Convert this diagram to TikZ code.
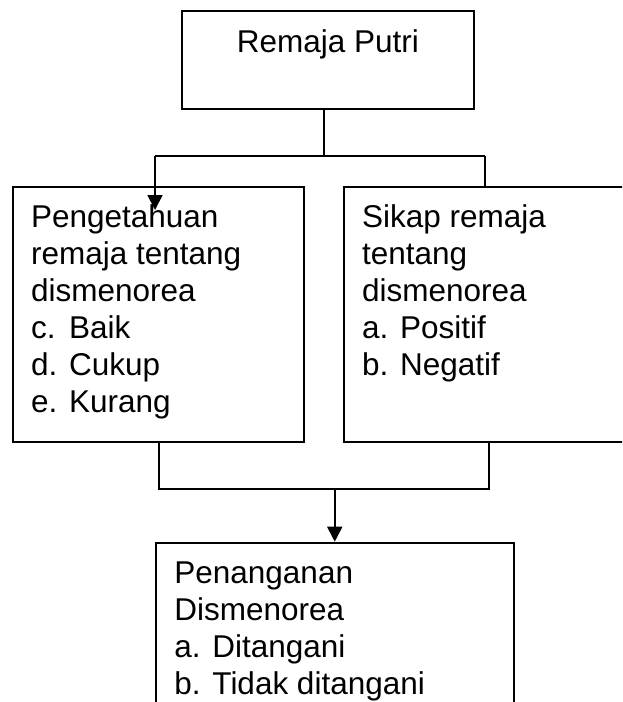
\documentclass[tikz,border=0pt]{standalone}
\usepackage{fontspec}
\setmainfont{Liberation Sans}
\usetikzlibrary{arrows.meta}
\newcommand{\panelbody}[3]{\parbox[t][#2][t]{#1}{\raggedright\rule{0pt}{41pt}#3}}
\newcommand{\listentry}[2]{\makebox[38pt][l]{#1}#2}
\tikzset{
  every picture/.style={font=\fontsize{31.5pt}{37pt}\selectfont},
  panel box/.style={draw, line width=1.8pt, inner xsep=18.5pt,
    inner ysep=0pt, anchor=north west},
  panel link/.style={draw, line width=1.8pt},
  panel arrow/.style={-{Triangle[length=15pt,width=15pt]},
    draw, line width=1.8pt}
}
\begin{document}
\begin{tikzpicture}[x=1pt,y=-1pt]
  \clip (0,0) rectangle (622,702);
  % boxes
  \node[panel box, inner xsep=0pt] (girl) at (181,10)
    {\parbox[t][98pt][t]{292pt}{\centering\rule{0pt}{42pt}Remaja Putri}};
  \node[panel box] (know) at (11.7,186)
    {\panelbody{254pt}{254.7pt}{Pengetahuan\\ remaja tentang\\ dismenorea\\
      \listentry{c.}{Baik}\\ \listentry{d.}{Cukup}\\ \listentry{e.}{Kurang}}};
  \node[panel box] (attitude) at (342.7,186)
    {\panelbody{263pt}{254.7pt}{Sikap remaja\\ tentang\\ dismenorea\\
      \listentry{a.}{Positif}\\ \listentry{b.}{Negatif}}};
  \node[panel box] (handling) at (155,541.7)
    {\panelbody{320.7pt}{200pt}{Penanganan\\ Dismenorea\\
      \listentry{a.}{Ditangani}\\ \listentry{b.}{Tidak ditangani}}};
  % fork below the top box
  \coordinate (forkL) at (155,156);
  \coordinate (forkR) at (485,156);
  \draw[panel link] ([xshift=-4pt]girl.south) -- ([xshift=-4pt]girl.south |- forkL);
  \draw[panel link] (forkL) -- (forkR);
  \draw[panel arrow] (forkL) -- ++(0,54);
  \draw[panel link] (forkR) -- (forkR |- attitude.north);
  % join above the bottom box
  \coordinate (joinL) at (159,489);
  \coordinate (joinR) at (489,489);
  \draw[panel link] (joinL |- know.south) -- (joinL) -- (joinR)
    -- (joinR |- attitude.south);
  \draw[panel arrow] (handling.north |- joinL) -- (handling.north);
\end{tikzpicture}
\end{document}
